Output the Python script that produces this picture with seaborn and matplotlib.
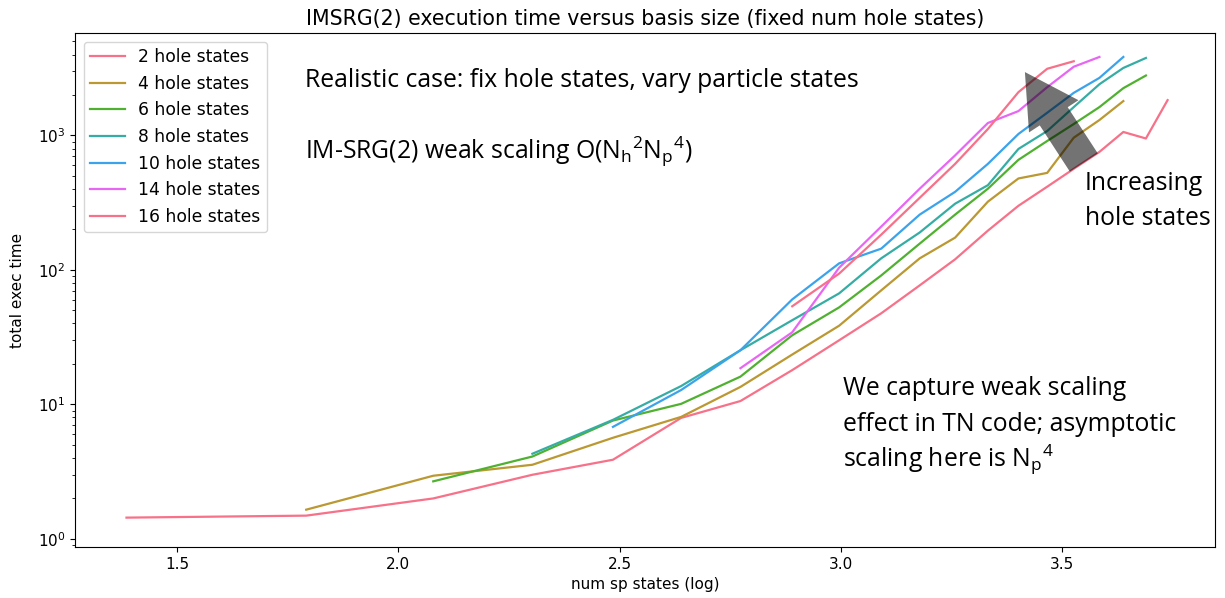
import matplotlib
matplotlib.use("Agg")
import matplotlib.pyplot as plt
import pandas as pd
import seaborn as sns

# x grid: num sp states (log)
sp_states_log = [1.386, 1.792, 2.079, 2.303, 2.485, 2.639, 2.773, 2.890, 2.996, 3.091,
                 3.178, 3.258, 3.332, 3.401, 3.466, 3.526, 3.584, 3.638, 3.689, 3.738]

hole_labels = ["2 hole states", "4 hole states", "6 hole states", "8 hole states",
               "10 hole states", "14 hole states", "16 hole states"]
start_index = [0, 1, 2, 3, 4, 6, 7]

time_h2 = [1.44, 1.49, 2.0, 3.0, 3.88, 7.94, 10.6, 18.0, 30.0, 47.6, 76.8, 120, 196,
           300, 416, 565, 755, 1062, 950, 1832]
time_h4 = [1.65, 2.95, 3.56, 5.65, 8.08, 13.5, 23.5, 38.5, 70.5, 122, 174, 322, 479,
           527, 963, 1303, 1802]
time_h6 = [2.68, 4.10, 7.59, 10.1, 16.1, 32.7, 52.7, 91, 157, 258, 402, 659, 910,
           1217, 1626, 2248, 2792]
time_h8 = [4.30, 7.68, 13.7, 25.3, 42.3, 67, 122, 190, 311, 427, 794, 1079, 1626,
           2405, 3178, 3770]
time_h10 = [6.81, 12.8, 25.3, 60.4, 112, 144, 258, 381, 615, 1026, 1476, 2075, 2681, 3836]
time_h14 = [18.6, 34.4, 104, 210, 402, 711, 1238, 1518, 2287, 3245, 3836]
time_h16 = [53.7, 94, 183, 344, 615, 1117, 2099, 3134, 3565]

series = [time_h2, time_h4, time_h6, time_h8, time_h10, time_h14, time_h16]

rows = []
for label, start, ys in zip(hole_labels, start_index, series):
    for x, y in zip(sp_states_log[start:start + len(ys)], ys):
        rows.append({"x": x, "t": y, "label": label})
df = pd.DataFrame(rows)

plt.rcParams["font.size"] = 11
pal6 = sns.color_palette("husl", 6)
palette = {lab: pal6[i % 6] for i, lab in enumerate(hole_labels)}

fig = plt.figure(figsize=(12.25, 5.98), dpi=100)
ax = fig.add_axes([0.0612, 0.0853, 0.9306, 0.8595])
sns.lineplot(data=df, x="x", y="t", hue="label", hue_order=hole_labels,
             palette=palette, estimator=None, sort=False, linewidth=1.6, ax=ax)
ax.set_yscale("log")
ax.set_xlim(1.2696, 3.845)
ax.set_ylim(10 ** -0.06, 10 ** 3.762)
ax.set_xlabel("num sp states (log)")
ax.set_ylabel("total exec time", labelpad=9)
ax.set_title("IMSRG(2) execution time versus basis size (fixed num hole states)",
             fontsize=14.8, pad=6)
h, l = ax.get_legend_handles_labels()
ax.legend(h, l, loc="upper left", fontsize=12.3)

afont = dict(family="Open Sans", fontsize=17.8, color="black")
notes = [
    (0.2018, 0.8953, "Realistic case: fix hole states, vary particle states"),
    (0.2018, 0.7553,
     r"IM-SRG(2) weak scaling O(N$_\mathregular{h}$$^\mathregular{2}$N$_\mathregular{p}$$^\mathregular{4}$)"),
    (0.886, 0.6949, "Increasing"),
    (0.886, 0.6268, "hole states"),
    (0.6737, 0.2961, "We capture weak scaling"),
    (0.6737, 0.2261, "effect in TN code; asymptotic"),
    (0.6737, 0.1560, r"scaling here is N$_\mathregular{p}$$^\mathregular{4}$"),
]
for nx, ny, txt in notes:
    ax.text(nx, ny, txt, transform=ax.transAxes, va="baseline", ha="left", **afont)

ax.annotate("", xy=(0.8333, 0.924), xytext=(0.885, 0.748), xycoords="axes fraction",
            textcoords="axes fraction",
            arrowprops=dict(arrowstyle="simple,head_length=38,head_width=42.5,tail_width=24",
                            mutation_scale=1, color="black", alpha=0.55, lw=0,
                            shrinkA=0, shrinkB=0))

fig.savefig("out.png", dpi=100)
